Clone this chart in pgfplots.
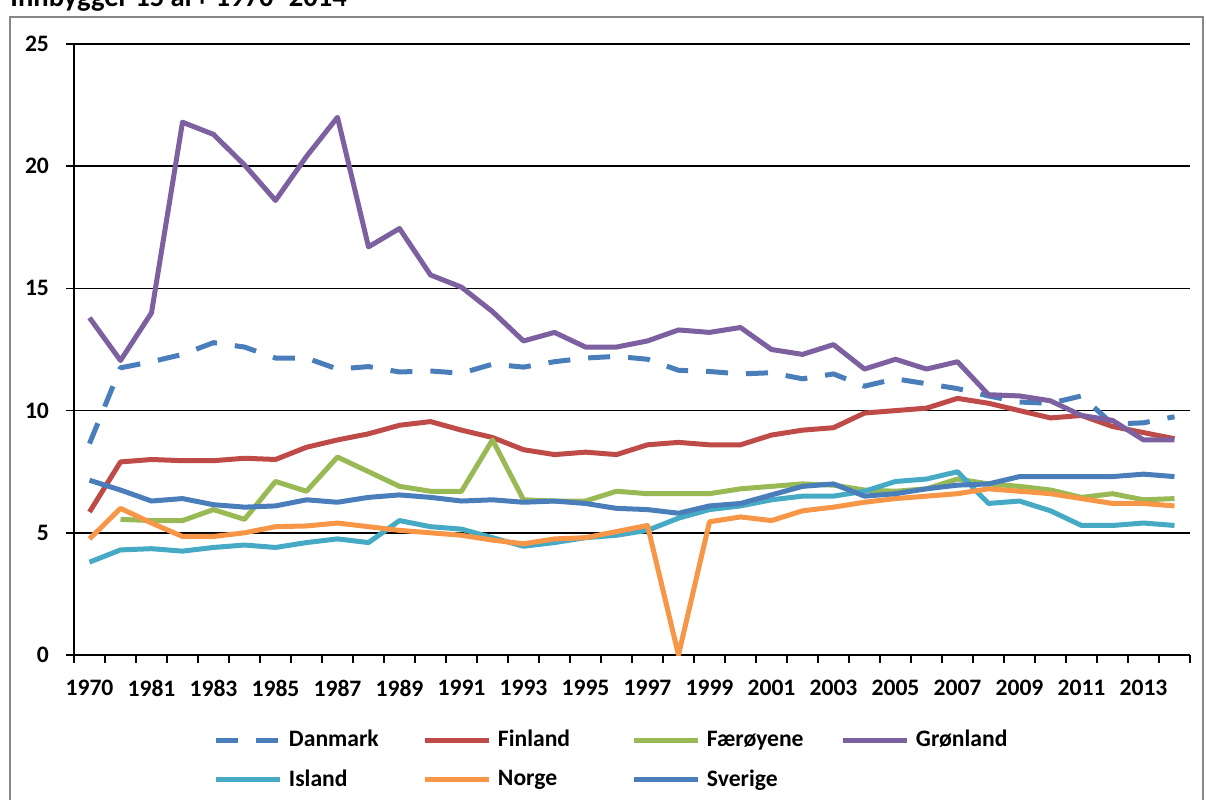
\documentclass[border=0pt]{standalone}
\usepackage{pgfplots}
\pgfplotsset{compat=1.18}
\usepackage{pgfplotstable}
\usepackage{fontspec}
\setmainfont{Carlito}
\definecolor{cdan}{HTML}{4A7EBB}
\definecolor{cfin}{HTML}{BE4B48}
\definecolor{cfae}{HTML}{98B954}
\definecolor{cgro}{HTML}{7D60A0}
\definecolor{cisl}{HTML}{46AAC5}
\definecolor{cnor}{HTML}{F79646}
\definecolor{csve}{HTML}{4A7EBB}
\definecolor{cframe}{HTML}{868686}
\pgfplotstableread{
i  dan   fin   fae   gro   isl   nor   sve
0  8.65  5.85  nan   13.8  3.8   4.75  7.15
1  11.75 7.9   5.55  12.05 4.3   6.0   6.75
2  12.0  8.0   5.5   14.0  4.35  5.4   6.3
3  12.3  7.95  5.5   21.8  4.25  4.85  6.4
4  12.78 7.95  5.95  21.3  4.4   4.85  6.15
5  12.6  8.05  5.55  20.05 4.5   5.0   6.05
6  12.15 8.0   7.1   18.6  4.4   5.25  6.1
7  12.15 8.5   6.7   20.4  4.6   5.28  6.35
8  11.7  8.8   8.1   22.0  4.75  5.4   6.25
9  11.8  9.05  7.5   16.7  4.6   5.25  6.45
10 11.58 9.4   6.9   17.45 5.5   5.1   6.55
11 11.62 9.55  6.7   15.55 5.25  5.0   6.45
12 11.53 9.2   6.7   15.05 5.15  4.9   6.3
13 11.9  8.9   8.8   14.05 4.8   4.7   6.35
14 11.78 8.4   6.35  12.85 4.45  4.55  6.25
15 12.0  8.2   6.3   13.2  4.6   4.75  6.3
16 12.15 8.3   6.3   12.6  4.8   4.8   6.2
17 12.22 8.2   6.7   12.6  4.9   5.05  6.0
18 12.1  8.6   6.6   12.85 5.1   5.3   5.95
19 11.65 8.7   6.6   13.3  5.6   0     5.8
20 11.6  8.6   6.6   13.2  5.95  5.45  6.1
21 11.5  8.6   6.8   13.4  6.1   5.65  6.2
22 11.55 9.0   6.9   12.5  6.35  5.5   6.55
23 11.3  9.2   7.0   12.3  6.5   5.9   6.9
24 11.5  9.3   6.95  12.7  6.5   6.05  7.0
25 11.0  9.9   6.75  11.7  6.7   6.25  6.5
26 11.3  10.0  6.7   12.1  7.1   6.4   6.6
27 11.1  10.1  6.8   11.7  7.2   6.5   6.8
28 10.9  10.5  7.2   12.0  7.5   6.6   6.95
29 10.6  10.3  7.0   10.65 6.2   6.8   7.0
30 10.35 10.0  6.9   10.6  6.3   6.7   7.3
31 10.3  9.7   6.75  10.4  5.9   6.6   7.3
32 10.6  9.8   6.45  9.8   5.3   6.4   7.3
33 9.45  9.35  6.6   9.6   5.3   6.2   7.3
34 9.5   9.1   6.35  8.8   5.4   6.2   7.4
35 9.75  8.85  6.4   8.8   5.3   6.1   7.3
}\data
\begin{document}
\begin{tikzpicture}
\begin{axis}[
  at={(0pt,0pt)}, anchor=south west,
  scale only axis, width=558pt, height=305.5pt,
  xmin=-0.5, xmax=35.5, ymin=0, ymax=25,
  axis x line*=bottom, axis y line*=left,
  axis line style={-, black, line width=0.75pt},
  ytick={0,5,...,25}, minor ytick={0,5,...,25},
  ymajorgrids, grid style={black, line width=0.75pt},
  tick align=outside, major tick length=0pt, minor tick length=4pt,
  tick style={black, line width=0.75pt},
  xtick={0,2,...,34},
  xticklabels={1970,1981,1983,1985,1987,1989,1991,1993,1995,1997,1999,2001,2003,2005,2007,2009,2011,2013},
  minor xtick={-0.5,0.5,...,35.5},
  xticklabel shift=9pt,
  /pgf/number format/assume math mode=true,
  tick label style={font=\fontsize{11.8}{13}\selectfont\bfseries},
  yticklabel style={xshift=-9pt},
  every axis plot/.append style={line width=2.5pt, line join=round},
  legend columns=4,
  legend style={at={(0.5,0)}, anchor=north, yshift=-32.5pt, draw=none, fill=none,
     font=\fontsize{11.8}{13}\selectfont\bfseries,
     nodes={text width=64pt, align=left, inner sep=3pt},
     row sep=4pt, column sep=0pt},
  legend cell align=left,
  legend image code/.code={\draw[#1] (0pt,0pt) -- (32pt,0pt);},
]
\addplot[cdan, dash pattern=on 11pt off 9pt] table[x=i,y=dan]{\data};
\addlegendentry{Danmark}
\addplot[cfin] table[x=i,y=fin]{\data};
\addlegendentry{Finland}
\addplot[cfae] table[x=i,y=fae]{\data};
\addlegendentry{Færøyene}
\addplot[cgro] table[x=i,y=gro]{\data};
\addlegendentry{Grønland}
\addplot[cisl] table[x=i,y=isl]{\data};
\addlegendentry{Island}
\addplot[cnor] table[x=i,y=nor]{\data};
\addlegendentry{Norge}
\addplot[csve] table[x=i,y=sve]{\data};
\addlegendentry{Sverige}
\end{axis}
\node[anchor=base west, inner sep=0pt, font=\fontsize{14.3}{16}\selectfont\bfseries] at (-32pt,324pt) {Innbygger 15 år+ 1970- 2014};
\draw[cframe, line width=1pt] (-32pt,-90pt) -- (-32pt,319pt) -- (564.5pt,319pt) -- (564.5pt,-90pt);
\pgfresetboundingbox
\path[use as bounding box] (-37pt,-72pt) rectangle (566pt,327.5pt);
\end{tikzpicture}
\end{document}
